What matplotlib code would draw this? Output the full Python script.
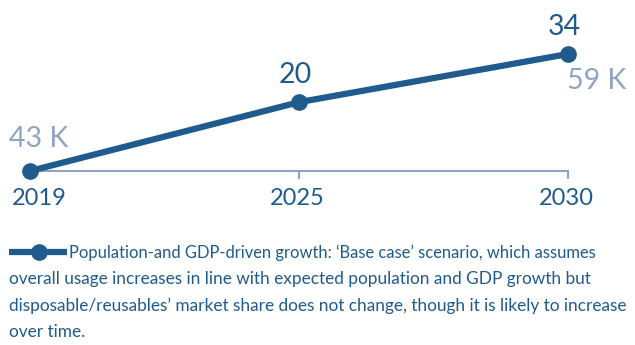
import matplotlib
matplotlib.use("Agg")
import matplotlib.pyplot as plt

years = ["2019", "2025", "2030"]
values = [0, 20, 34]
value_labels = ["", "20", "34"]
start_label = "43 K"
end_label = "59 K"
legend_lines = [
    "Population-and GDP-driven growth: \u2018Base case\u2019 scenario, which assumes",
    "overall usage increases in line with expected population and GDP growth but",
    "disposable/reusables\u2019 market share does not change, though it is likely to increase",
    "over time.",
]

DARK = "#1f5b8d"
LIGHT = "#8da4c4"
plt.rcParams["font.family"] = ["Lato", "DejaVu Sans"]

W, H = 635, 345
fig = plt.figure(figsize=(W / 100, H / 100), dpi=100)
fig.patch.set_facecolor("white")


def px(x0, y0, x1, y1):
    # pixel box (top-left origin) -> figure fraction
    return [x0 / W, 1 - y1 / H, (x1 - x0) / W, (y1 - y0) / H]


ax = fig.add_axes(px(30, 54, 568, 171))
xs = list(range(len(years)))
ax.set_xlim(0, len(years) - 1)
ax.set_ylim(0, 34)
ax.set_facecolor("none")

for s in ("left", "right", "top"):
    ax.spines[s].set_visible(False)
ax.spines["bottom"].set_color(LIGHT)
ax.spines["bottom"].set_linewidth(1.5)
ax.set_yticks([])
ax.set_xticks(xs[1:])
ax.set_xticklabels([])
ax.tick_params(axis="x", length=6, width=1.5, color=LIGHT)

ax.plot(xs, values, color=DARK, lw=4.5, marker="o", ms=11,
        solid_capstyle="round", clip_on=False, zorder=3)

# year labels under the axis
year_offsets = [7, -1, -1.5]
for x, yr, dx in zip(xs, years, year_offsets):
    ax.annotate(yr, xy=(x, 0), xytext=(dx, -12),
                textcoords="offset points", ha="center", va="top",
                fontsize=17, color=DARK, annotation_clip=False)

# value labels over the markers
for x, v, lab in zip(xs, values, value_labels):
    if lab:
        ax.annotate(lab, xy=(x, v), xytext=(-3, 10), textcoords="offset points",
                    ha="center", va="bottom", fontsize=20.5, color=DARK,
                    annotation_clip=False)

ax.annotate(start_label, xy=(xs[0], values[0]), xytext=(-15, 14),
            textcoords="offset points", ha="left", va="bottom",
            fontsize=20.5, color=LIGHT, annotation_clip=False)
ax.annotate(end_label, xy=(xs[-1], values[-1]), xytext=(-1, -10),
            textcoords="offset points", ha="left", va="top",
            fontsize=20.5, color=LIGHT, annotation_clip=False)

# legend key and wrapped description
key_y = 1 - 252 / H
fig.add_artist(plt.Line2D([9 / W, 67 / W], [key_y, key_y], color=DARK, lw=4.5,
                          solid_capstyle="butt", transform=fig.transFigure))
fig.add_artist(plt.Line2D([39 / W], [key_y], color=DARK, marker="o", ms=11,
                          transform=fig.transFigure))
baselines = [258, 284, 311, 337]
starts = [69, 9, 9, 9]
sizes = [11.9, 12.4, 12.4, 12.4]
for line, yb, x0, fs in zip(legend_lines, baselines, starts, sizes):
    fig.text(x0 / W, 1 - yb / H, line, fontsize=fs,
             color=DARK, ha="left", va="baseline")

fig.savefig("out.png", dpi=100)
